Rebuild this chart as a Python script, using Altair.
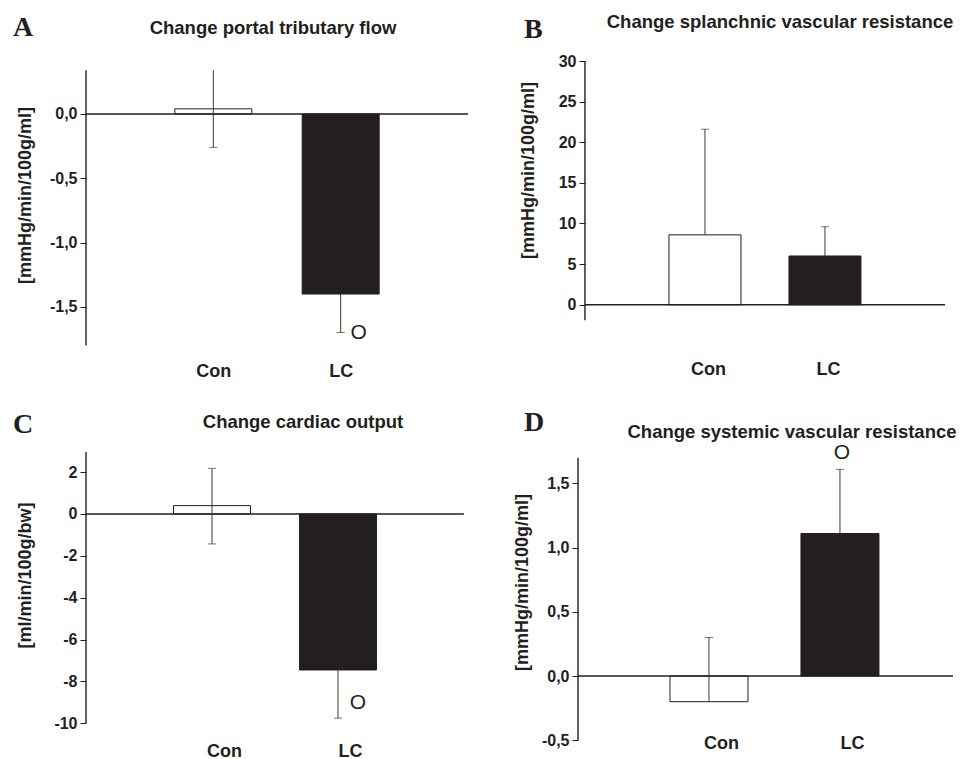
import json
import altair as alt
import pandas as pd

INK = "#231f20"
ERR = "#3a3a3a"
FONT = "Liberation Sans"
SERIF = "Liberation Serif"

# ---------------- data ----------------
panel_keys = ["A", "B", "C", "D"]
panel_titles = [
    "Change portal tributary flow",
    "Change splanchnic vascular resistance",
    "Change cardiac output",
    "Change systemic vascular resistance",
]
y_titles = ["[mmHg/min/100g/ml]", "[mmHg/min/100g/ml]", "[ml/min/100g/bw]", "[mmHg/min/100g/ml]"]
groups = ["Con", "LC"]
group_pos = [1, 2]

mean_A = [0.04, -1.40]
low_A = [-0.26, -1.70]
high_A = [0.34, -1.40]
cap_group_A = ["Con", "LC"]
cap_val_A = [-0.26, -1.70]
sig_A = [-1.70]

mean_B = [8.6, 6.0]
low_B = [8.6, 6.0]
high_B = [21.6, 9.6]
cap_group_B = ["Con", "LC"]
cap_val_B = [21.6, 9.6]
sig_B = []

mean_C = [0.4, -7.45]
low_C = [-1.43, -9.75]
high_C = [2.18, -7.45]
cap_group_C = ["Con", "Con", "LC"]
cap_val_C = [-1.43, 2.18, -9.75]
sig_C = [-9.75]

mean_D = [-0.2, 1.11]
low_D = [-0.2, 1.11]
high_D = [0.3, 1.61]
cap_group_D = ["Con", "LC"]
cap_val_D = [0.3, 1.61]
sig_D = [1.61]

yticks_A = [-1.5, -1.0, -0.5, 0.0]
yticks_B = [0, 5, 10, 15, 20, 25, 30]
yticks_C = [-10, -8, -6, -4, -2, 0, 2]
yticks_D = [-0.5, 0.0, 0.5, 1.0, 1.5]

axis_extent_A = [-1.80, 0.34]
axis_extent_B = [-1.9, 30]
axis_extent_C = [-10, 2.96]
axis_extent_D = [-0.5, 1.70]

zero_extent_A = [0, 3]
zero_extent_B = [0, 3]
zero_extent_C = [0, 3]
zero_extent_D = [0, 2.863]

data = {
    "A": (mean_A, low_A, high_A, cap_group_A, cap_val_A, sig_A, yticks_A, axis_extent_A, zero_extent_A),
    "B": (mean_B, low_B, high_B, cap_group_B, cap_val_B, sig_B, yticks_B, axis_extent_B, zero_extent_B),
    "C": (mean_C, low_C, high_C, cap_group_C, cap_val_C, sig_C, yticks_C, axis_extent_C, zero_extent_C),
    "D": (mean_D, low_D, high_D, cap_group_D, cap_val_D, sig_D, yticks_D, axis_extent_D, zero_extent_D),
}

# ---------------- layout / style ----------------
layout = {
    "A": dict(w=382, h=285, xdom=[0, 3], ydom=[-1.804, 0.412], bar=77, fmt=".1f",
              lab_pad=16, lab_off=0, yoff=0, ytx=-61, yty=134,
              sig_dx=18, sig_dy=0, letter=(-73, -33), title=(187, -33)),
    "B": dict(w=375, h=285, xdom=[-0.058, 3.067], ydom=[-5.08, 30], bar=72, fmt="d",
              lab_pad=14, lab_off=3, yoff=-7, ytx=-57, yty=109,
              sig_dx=0, sig_dy=0, letter=(-54, -31), title=(202, -39)),
    "C": dict(w=382, h=290, xdom=[0, 3.032], ydom=[-10.89, 2.96], bar=77, fmt="d",
              lab_pad=0, lab_off=12, yoff=0, ytx=-61, yty=123,
              sig_dx=20, sig_dy=-15, letter=(-73, -27), title=(217, -30)),
    "D": dict(w=375, h=290, xdom=[0, 2.863], ydom=[-0.514, 1.745], bar=78, fmt=".1f",
              lab_pad=-8, lab_off=12, yoff=0, ytx=-56, yty=130,
              sig_dx=2, sig_dy=-16, letter=(-54, -29), title=(214, -20)),
}

cat_expr = json.dumps(groups) + "[datum.value - 1]"


def make_panel(i, key):
    mean, low, high, cap_g, cap_v, sig, yticks, ax_ext, z_ext = data[key]
    L = layout[key]
    xs = alt.Scale(domain=L["xdom"], nice=False, zero=False, padding=0)
    ys = alt.Scale(domain=L["ydom"], nice=False, zero=False, padding=0)

    df = pd.DataFrame({"group": groups, "pos": group_pos, "mean": mean, "lo": low, "hi": high})
    pos_of = dict(zip(groups, group_pos))
    caps_df = pd.DataFrame({"pos": [pos_of[g] for g in cap_g], "val": cap_v})
    sig_df = pd.DataFrame({"pos": [pos_of["LC"]] * len(sig), "val": sig, "t": ["O"] * len(sig)})
    zero_df = pd.DataFrame({"x0": [z_ext[0]], "x1": [z_ext[1]], "y": [0]})
    axl_df = pd.DataFrame({"x": [0], "y0": [ax_ext[0]], "y1": [ax_ext[1]]})

    label_expr = ("(datum.value < 0 ? '-' : '') + replace(format(abs(datum.value), '"
                  + L["fmt"] + "'), '.', ',')")

    xaxis = alt.Axis(values=group_pos, labelExpr=cat_expr, domain=False, ticks=False, tickSize=0,
                     grid=False, title=None, labelFont=FONT, labelFontSize=18, labelFontWeight="bold",
                     labelColor=INK, labelPadding=L["lab_pad"], labelOffset=L["lab_off"],
                     labelFlush=False, labelOverlap=False, labelBound=False)
    yaxis = alt.Axis(values=yticks, labelExpr=label_expr, domain=False, ticks=True, tickSize=6,
                     tickWidth=1, tickColor=INK, grid=False, labelFont=FONT, labelFontSize=16,
                     labelFontWeight="bold", labelColor=INK, labelPadding=3, offset=L["yoff"],
                     title=y_titles[i], titleFont=FONT, titleFontSize=18, titleFontWeight="bold",
                     titleColor=INK, titleAngle=270, titleAlign="center", titleBaseline="middle",
                     titleX=L["ytx"], titleY=L["yty"], labelFlush=False, labelOverlap=False)

    def X(f):
        return alt.X(f, scale=xs, axis=xaxis)

    def Y(f):
        return alt.Y(f, scale=ys, axis=yaxis)

    bars = alt.Chart(df).mark_bar(size=L["bar"], stroke=INK, strokeWidth=1).encode(
        x=X("pos:Q"),
        y=Y("mean:Q"),
        y2=alt.datum(0),
        color=alt.Color("group:N", scale=alt.Scale(domain=groups, range=["#ffffff", INK]), legend=None),
    )
    zero = alt.Chart(zero_df).mark_rule(color=INK, strokeWidth=1.4).encode(
        x=X("x0:Q"), x2="x1:Q", y=Y("y:Q"))
    axline = alt.Chart(axl_df).mark_rule(color=INK, strokeWidth=1.4).encode(
        x=X("x:Q"), y=Y("y0:Q"), y2="y1:Q")
    err = alt.Chart(df).mark_rule(color=ERR, strokeWidth=1).encode(
        x=X("pos:Q"), y=Y("lo:Q"), y2="hi:Q")
    caps = alt.Chart(caps_df).mark_tick(orient="horizontal", size=8, thickness=1, color=ERR).encode(
        x=X("pos:Q"), y=Y("val:Q"))
    layers = [bars, zero, err, caps, axline]
    if len(sig):
        sigm = alt.Chart(sig_df).mark_text(font=FONT, fontSize=21, color=INK, dx=L["sig_dx"],
                                           dy=L["sig_dy"], align="center", baseline="middle").encode(
            x=X("pos:Q"), y=Y("val:Q"), text="t:N")
        layers.append(sigm)
    letter = alt.Chart(pd.DataFrame({"t": [key]})).mark_text(
        font=SERIF, fontSize=28, fontWeight="bold", color=INK, align="left", baseline="middle").encode(
        x=alt.value(L["letter"][0]), y=alt.value(L["letter"][1]), text="t:N")
    title = alt.Chart(pd.DataFrame({"t": [panel_titles[i]]})).mark_text(
        font=FONT, fontSize=18.5, fontWeight="bold", color=INK, align="center", baseline="middle").encode(
        x=alt.value(L["title"][0]), y=alt.value(L["title"][1]), text="t:N")
    layers += [letter, title]
    return alt.layer(*layers).properties(width=L["w"], height=L["h"])


panels = [make_panel(i, k) for i, k in enumerate(panel_keys)]

chart = alt.concat(
    *panels, columns=2, spacing=alt.RowColnumber(row=106, column=110), bounds="flush", align="each"
).properties(
    padding={"left": 5, "top": 5, "right": 5, "bottom": 0}, background="white"
).configure_view(stroke=None)

chart.save("out.html", embed_options={"renderer": "svg", "actions": False})
